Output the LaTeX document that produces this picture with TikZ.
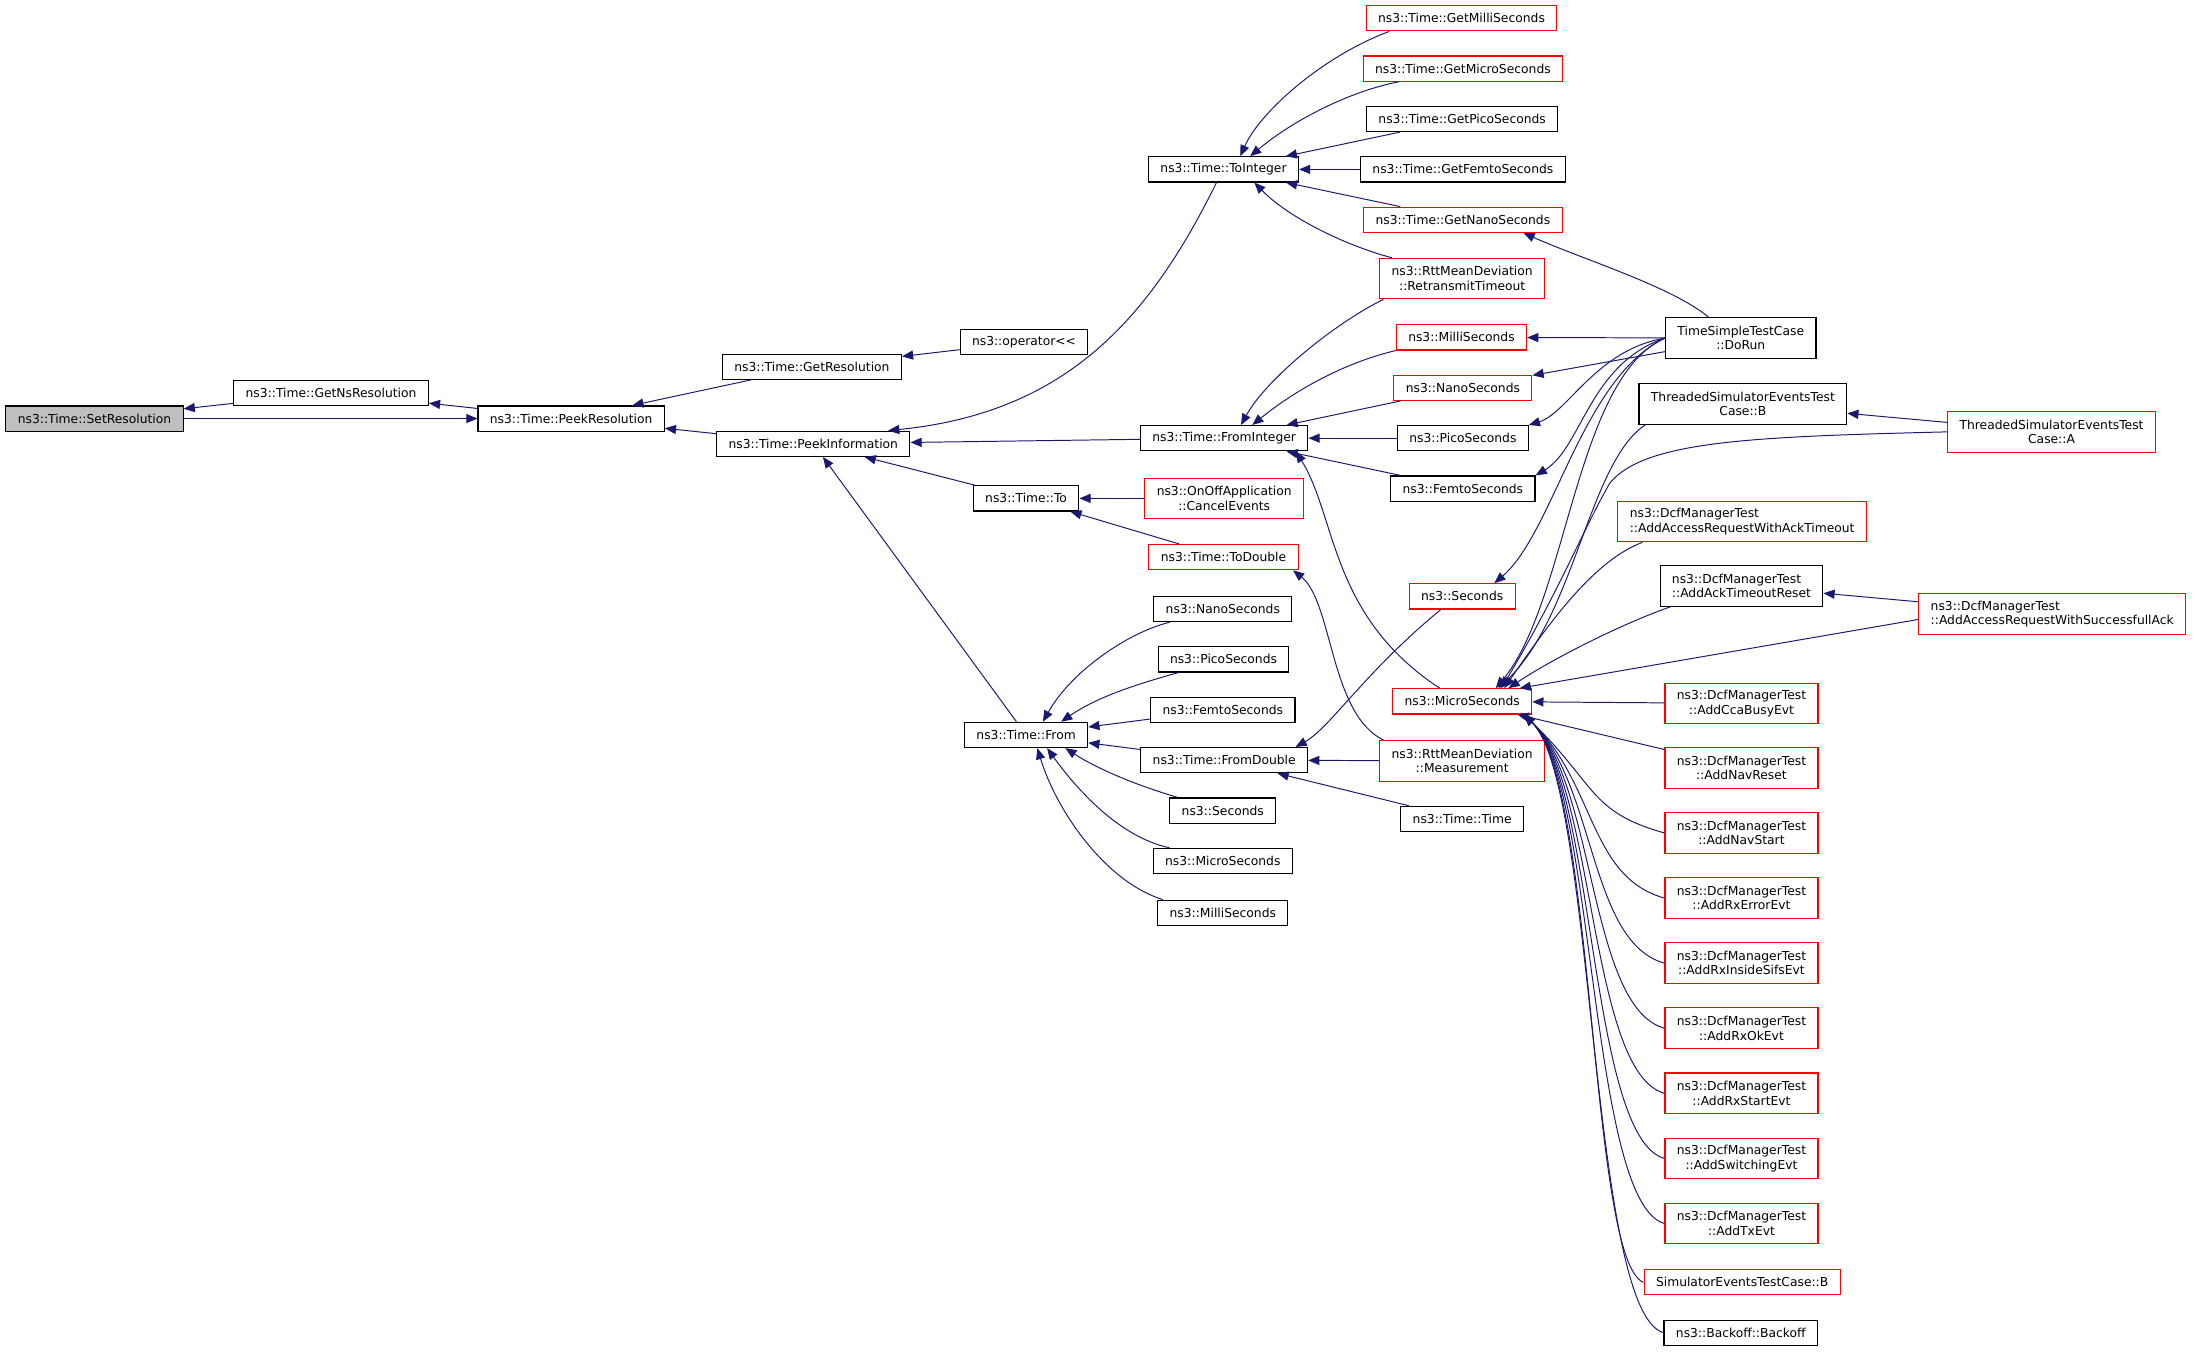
\documentclass[tikz,border=0pt]{standalone}
\usepackage{fontspec}
\setmainfont{DejaVu Sans}
\usetikzlibrary{arrows.meta}
\definecolor{edgeblue}{HTML}{191970}
\definecolor{boxred}{HTML}{FF0000}
\definecolor{boxgray}{HTML}{BFBFBF}
\tikzset{
  fn/.style={draw=black, line width=0.8pt, fill=white, inner xsep=8.5pt, inner ysep=1pt,
    minimum height=18pt, align=center, font=\fontsize{8.8}{10.3}\selectfont},
  fnred/.style={fn, draw=boxred},
  twoline/.style={minimum height=29pt},
  call/.style={edgeblue, line width=0.7pt},
}
\begin{document}
\begin{tikzpicture}[x=1pt,y=-1pt,>={Triangle[length=8pt,width=6.5pt]}]
    \useasboundingbox (0,0) rectangle (1568,967);
    % left part
    \node[fn,fill=boxgray] (setres) at (67.5,299) {ns3::Time::SetResolution};
    \node[fn] (getnsres) at (236.5,280.5) {ns3::Time::GetNsResolution};
    \node[fn] (peekres) at (408,299) {ns3::Time::PeekResolution};
    \node[fn] (getres) at (580,262) {ns3::Time::GetResolution};
    \node[fn] (peekinfo) at (581,317) {ns3::Time::PeekInformation};
    \node[fn] (oplt) at (731.5,244.5) {ns3::operator<\kern0pt<};
    \node[fn] (toint) at (874,121) {ns3::Time::ToInteger};
    \node[fn] (fromint) at (874.5,313) {ns3::Time::FromInteger};
    \node[fn] (timeto) at (733,356) {ns3::Time::To};
    \node[fn] (timefrom) at (733,525) {ns3::Time::From};
    % callers of To and From
    \node[fnred,twoline] (cancel) at (874.5,356) {ns3::OnOffApplication\\::CancelEvents};
    \node[fnred] (todbl) at (874,398) {ns3::Time::ToDouble};
    \node[fn] (fnano) at (873.5,435) {ns3::NanoSeconds};
    \node[fn] (fpico) at (874,471) {ns3::PicoSeconds};
    \node[fn] (ffemto) at (873.5,507) {ns3::FemtoSeconds};
    \node[fn] (fromdbl) at (874.5,543) {ns3::Time::FromDouble};
    \node[fn] (fsec) at (873.5,579) {ns3::Seconds};
    \node[fn] (fmicro) at (873.5,615) {ns3::MicroSeconds};
    \node[fn] (fmilli) at (873.5,652) {ns3::MilliSeconds};
    % callers of ToInteger, FromInteger, FromDouble
    \node[fnred] (getmilli) at (1044,13) {ns3::Time::GetMilliSeconds};
    \node[fnred] (getmicro) at (1045,49) {ns3::Time::GetMicroSeconds};
    \node[fn] (getpico) at (1044.5,85) {ns3::Time::GetPicoSeconds};
    \node[fn] (getfemto) at (1045,121) {ns3::Time::GetFemtoSeconds};
    \node[fnred] (getnano) at (1045,157) {ns3::Time::GetNanoSeconds};
    \node[fnred,twoline] (retrans) at (1044.5,199) {ns3::RttMeanDeviation\\::RetransmitTimeout};
    \node[fnred] (milli) at (1044,241) {ns3::MilliSeconds};
    \node[fnred] (nano) at (1045,277) {ns3::NanoSeconds};
    \node[fn] (pico) at (1045,313) {ns3::PicoSeconds};
    \node[fn] (femto) at (1045,349) {ns3::FemtoSeconds};
    \node[fnred] (sec) at (1044.5,426) {ns3::Seconds};
    \node[fnred] (micro) at (1044.5,501) {ns3::MicroSeconds};
    \node[fnred,twoline] (meas) at (1044.5,543.5) {ns3::RttMeanDeviation\\::Measurement};
    \node[fn] (ttime) at (1044.5,585) {ns3::Time::Time};
    % test cases
    \node[fn,twoline] (dorun) at (1243.5,241.5) {TimeSimpleTestCase\\::DoRun};
    \node[fn,twoline] (thrb) at (1245,288.5) {ThreadedSimulatorEventsTest\\Case::B};
    \node[fnred,twoline,align=left] (ackto) at (1244.5,372.5) {ns3::DcfManagerTest\\::AddAccessRequestWithAckTimeout};
    \node[fn,twoline,align=left] (ackreset) at (1244,418.5) {ns3::DcfManagerTest\\::AddAckTimeoutReset};
    \node[fnred,twoline] (ccabusy) at (1244,502.5) {ns3::DcfManagerTest\\::AddCcaBusyEvt};
    \node[fnred,twoline] (navreset) at (1244,548.5) {ns3::DcfManagerTest\\::AddNavReset};
    \node[fnred,twoline] (navstart) at (1244,595) {ns3::DcfManagerTest\\::AddNavStart};
    \node[fnred,twoline] (rxerr) at (1244,641.5) {ns3::DcfManagerTest\\::AddRxErrorEvt};
    \node[fnred,twoline] (rxsifs) at (1244,688) {ns3::DcfManagerTest\\::AddRxInsideSifsEvt};
    \node[fnred,twoline] (rxok) at (1244,734.5) {ns3::DcfManagerTest\\::AddRxOkEvt};
    \node[fnred,twoline] (rxstart) at (1244,781) {ns3::DcfManagerTest\\::AddRxStartEvt};
    \node[fnred,twoline] (switching) at (1244,827.5) {ns3::DcfManagerTest\\::AddSwitchingEvt};
    \node[fnred,twoline] (txevt) at (1244,874) {ns3::DcfManagerTest\\::AddTxEvt};
    \node[fnred] (simb) at (1244.5,916) {SimulatorEventsTestCase::B};
    \node[fn] (backoff) at (1243.5,952) {ns3::Backoff::Backoff};
    \node[fnred,twoline] (thra) at (1465.5,308.5) {ThreadedSimulatorEventsTest\\Case::A};
    \node[fnred,twoline,align=left] (succack) at (1466,438.5) {ns3::DcfManagerTest\\::AddAccessRequestWithSuccessfullAck};
    % calls
    \draw[call,<-] (setres) -- (getnsres);
    \draw[call,<-] (getnsres) -- (peekres);
    \draw[call,->] (setres) -- (peekres);
    \draw[call,<-] (peekres) -- (getres);
    \draw[call,<-] (peekres) -- (peekinfo);
    \draw[call,<-] (getres) -- (oplt);
    \draw[call,<-] ([xshift=-16pt]peekinfo.north east) .. controls (760,295) and (820,230) .. ([xshift=-5pt]toint.south);
    \draw[call,<-] (peekinfo) -- (fromint);
    \draw[call,<-] (peekinfo) -- (timeto);
    \draw[call,<-] (peekinfo) -- (timefrom);
    \draw[call,<-] ([xshift=12pt]toint.north) .. controls (900,80) and (945,40) .. ([xshift=17pt]getmilli.south west);
    \draw[call,<-] ([xshift=19pt]toint.north) .. controls (925,85) and (965,65) .. ([xshift=26pt]getmicro.south west);
    \draw[call,<-] (toint) -- (getpico);
    \draw[call,<-] (toint) -- (getfemto);
    \draw[call,<-] (toint) -- (getnano);
    \draw[call,<-] ([xshift=22pt]toint.south) .. controls (920,155) and (960,175) .. ([xshift=9pt]retrans.north west);
    \draw[call,<-] ([xshift=-28pt]getnano.south east) .. controls (1130,185) and (1195,205) .. ([xshift=-23pt]dorun.north);
    \draw[call,<-] ([xshift=12pt]fromint.north) .. controls (905,270) and (955,230) .. ([xshift=3pt]retrans.south west);
    \draw[call,<-] ([xshift=20pt]fromint.north) .. controls (930,275) and (965,258) .. (milli.south west);
    \draw[call,<-] (fromint) -- (nano);
    \draw[call,<-] (fromint) -- (pico);
    \draw[call,<-] (fromint) -- (femto);
    \draw[call,<-] ([xshift=-9pt]fromint.south east) .. controls (955,370) and (950,440) .. ([xshift=34pt]micro.north west);
    \draw[call,<-] (timeto) -- (cancel);
    \draw[call,<-] (timeto) -- (todbl);
    \draw[call,<-] ([xshift=-4pt]todbl.south east) .. controls (952,430) and (950,510) .. ([xshift=3pt]meas.north west);
    \draw[call,<-] ([xshift=12pt]timefrom.north) .. controls (765,480) and (805,452) .. ([xshift=12pt]fnano.south west);
    \draw[call,<-] ([xshift=25pt]timefrom.north) .. controls (785,497) and (815,488) .. ([xshift=15pt]fpico.south west);
    \draw[call,<-] (timefrom) -- (ffemto);
    \draw[call,<-] (timefrom) -- (fromdbl);
    \draw[call,<-] ([xshift=28pt]timefrom.south) .. controls (785,550) and (815,562) .. ([xshift=6pt]fsec.north west);
    \draw[call,<-] ([xshift=15pt]timefrom.south) .. controls (770,565) and (800,598) .. ([xshift=12pt]fmicro.north west);
    \draw[call,<-] ([xshift=8pt]timefrom.south) .. controls (755,580) and (790,630) .. ([xshift=4pt]fmilli.north west);
    \draw[call,<-] ([xshift=-9pt]fromdbl.north east) .. controls (950,520) and (975,480) .. ([xshift=23pt]sec.south west);
    \draw[call,<-] (fromdbl) -- (meas);
    \draw[call,<-] (fromdbl) -- (ttime);
    % DoRun bundle
    \draw[call,<-] (milli) -- (dorun);
    \draw[call,<-] (nano) -- (dorun);
    \draw[call,<-] (pico.north east) .. controls (1120,295) and (1140,250) .. (dorun.west);
    \draw[call,<-] (femto.north east) .. controls (1130,320) and (1135,260) .. (dorun.west);
    \draw[call,<-] ([xshift=23pt]sec.north) .. controls (1110,380) and (1130,270) .. (dorun.west);
    \draw[call,<-] ([xshift=24pt]micro.north) .. controls (1120,430) and (1125,270) .. (dorun.west);
    \draw[call,<-] ([xshift=26pt]micro.north) .. controls (1125,440) and (1135,330) .. ([xshift=5pt]thrb.south west);
    \draw[call,<-] ([xshift=28pt]micro.north) .. controls (1115,420) and (1130,380) .. (1150,345) .. controls (1175,315) and (1250,312) .. (thra.west);
    \draw[call,<-] ([xshift=30pt]micro.north) .. controls (1110,440) and (1140,400) .. ([xshift=18pt]ackto.south west);
    \draw[call,<-] ([xshift=-17pt]micro.north east) .. controls (1110,470) and (1160,445) .. ([xshift=8pt]ackreset.south west);
    \draw[call,<-] ([xshift=-9pt]micro.north east) -- ([yshift=-4pt]succack.west);
    \draw[call,<-] (micro) -- (ccabusy);
    \draw[call,<-] (micro) -- (navreset);
    \foreach \n/\y in {navstart/595, rxerr/641.5, rxsifs/688, rxok/734.5, rxstart/781, switching/827.5, txevt/874, simb/916, backoff/952}
        \draw[call,<-] ([xshift=-6pt]micro.south east) .. controls (1140,560) and (1135,{\y-15}) .. (\n.west);
    \draw[call,<-] (thrb) -- (thra);
    \draw[call,<-] (ackreset) -- (succack);
\end{tikzpicture}
\end{document}
